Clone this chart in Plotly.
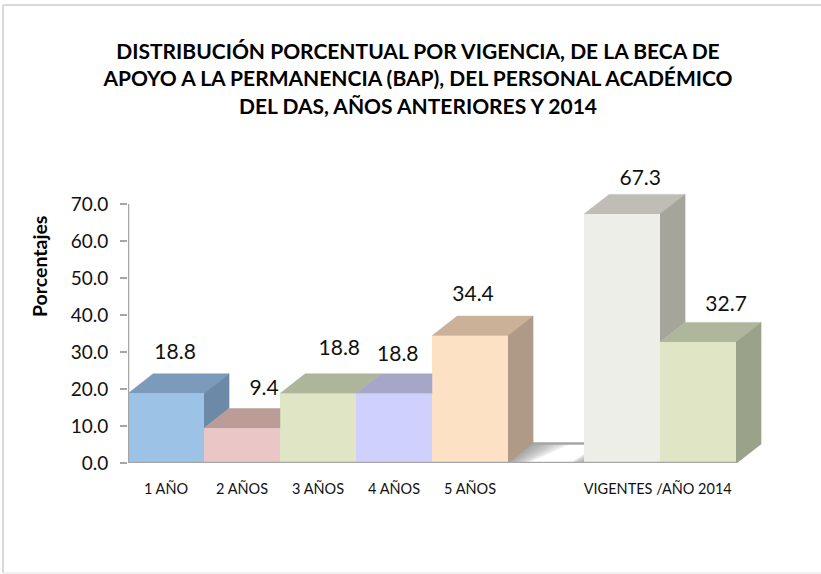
import plotly.graph_objects as go

title_lines = ["DISTRIBUCIÓN PORCENTUAL POR VIGENCIA, DE LA BECA DE",
               "APOYO A LA PERMANENCIA (BAP), DEL PERSONAL ACADÉMICO",
               "DEL DAS, AÑOS ANTERIORES Y 2014"]
y_title = "Porcentajes"
slots = [0, 1, 2, 3, 4, 6, 7]
values = [18.8, 9.4, 18.8, 18.8, 34.4, 67.3, 32.7]
tick_positions = [0.5, 1.5, 2.5, 3.5, 4.5, 6.97]
tick_labels = ["1 AÑO", "2 AÑOS", "3 AÑOS", "4 AÑOS", "5 AÑOS", "VIGENTES /AÑO 2014"]
y_ticks = [0, 10, 20, 30, 40, 50, 60, 70]

front_colors = ["#9CC2E6", "#EBC6C6", "#DFE5C5", "#D0D0FC", "#FDE1C4", "#EEEEE8", "#DFE5C5"]
top_colors = ["#7C9BBC", "#BC9C97", "#ADB59B", "#A6A6C8", "#CCB199", "#BFBDB6", "#AEB79B"]
side_colors = ["#6C89A8", "#A88F8B", "#9DA48B", "#9696B8", "#AF9A87", "#A5A59C", "#9AA289"]
label_dx = [0.12, 0.29, 0.28, 0.05, 0.04, 0.24, 0.37]
label_dy = [10.6, 10.3, 11.9, 10.3, 10.7, 9.2, 9.9]
DX, DY = 0.33, 5.3
AXIS = "#A6A6A6"
FONT = "Lato"
W, H = 821, 574
L, R, T, B = 128, 47, 167, 111
PW, PH = W - L - R, H - T - B

fig = go.Figure()


def poly(xs, ys, color):
    fig.add_trace(go.Scatter(x=xs, y=ys, mode="lines", fill="toself", fillcolor=color,
                             line=dict(color=color, width=0.5),
                             hoverinfo="skip", showlegend=False))


def seg(xs, ys, width):
    fig.add_trace(go.Scatter(x=xs, y=ys, mode="lines", line=dict(color=AXIS, width=width),
                             cliponaxis=False, hoverinfo="skip", showlegend=False))


# floor in the empty slot: back edge and soft shadows
for k in range(8):
    f = (8 - k) / 8
    poly([5, 5 + DX, 5 + DX + 0.5 * f, 5 + 0.25 * f], [0, DY, DY, 0], "rgba(120,120,120,0.10)")
    poly([6, 6 - 0.02 - 0.16 * f, 6], [0, 0, DY * 0.45 * f], "rgba(120,120,120,0.10)")
seg([5 + DX, 6], [DY, DY], 2.5)
seg([8, 8 + DX], [0, DY], 1.5)

# front faces
fig.add_trace(go.Bar(x=[s + 0.5 for s in slots], y=values, width=1,
                     marker=dict(color=front_colors, line=dict(width=0)), showlegend=False))

# top and side faces, hidden parts cut where the neighbour covers them
for i, (s, v) in enumerate(zip(slots, values)):
    adjacent = i + 1 < len(slots) and slots[i + 1] == s + 1
    nv = values[i + 1] if adjacent else 0
    x0, x1 = s, s + 1
    if nv > v:
        poly([x0, x0 + DX, x1, x1], [v, v + DY, v + DY, v], top_colors[i])
    else:
        poly([x0, x0 + DX, x1 + DX, x1], [v, v + DY, v + DY, v], top_colors[i])
    if nv < v:
        poly([x1, x1 + DX, x1 + DX, x1], [v, v + DY, nv + DY, nv], side_colors[i])

# axis lines stop at the last tick and at the last slot
seg([0, 0], [0, 70], 2.5)
seg([0, 8], [0, 0], 2.5)

# data labels
fig.add_trace(go.Scatter(
    x=[s + 0.5 + d for s, d in zip(slots, label_dx)],
    y=[v + d for v, d in zip(values, label_dy)],
    text=[f"{v:.1f}" for v in values], mode="text",
    textfont=dict(family=FONT, size=21, color="#111111"),
    cliponaxis=False, hoverinfo="skip", showlegend=False))

px = lambda p: (p - L) / PW
py = lambda p: (H - B - p) / PH
border = dict(xref="paper", yref="paper", layer="below")
fig.update_layout(
    width=W, height=H, paper_bgcolor="white", plot_bgcolor="white",
    margin=dict(l=L, r=R, t=T, b=B), autosize=False, showlegend=False,
    font=dict(family=FONT, color="#111111"),
    title=dict(text="<br>".join(title_lines), x=418 / W, xanchor="center", y=1 - 59 / H, yanchor="top",
               font=dict(family=FONT, size=21, color="#000000", weight="bold")),
    annotations=[dict(text=y_title, textangle=-90, xref="paper", yref="paper", x=px(39), y=py(267),
                      xanchor="center", yanchor="middle", showarrow=False,
                      font=dict(family=FONT, size=19.5, color="#000000", weight="bold"))],
    shapes=[dict(type="line", x0=px(3), x1=px(W), y0=py(5), y1=py(5), line=dict(color="#D9D9D9", width=2), **border),
            dict(type="line", x0=px(3), x1=px(3), y0=py(5), y1=py(573), line=dict(color="#D9D9D9", width=2), **border),
            dict(type="line", x0=px(3), x1=px(W), y0=py(573), y1=py(573), line=dict(color="#E4E4E4", width=1), **border)],
)
fig.update_xaxes(range=[0, PW / 76], tickvals=tick_positions, ticktext=tick_labels, ticks="", showgrid=False,
                 zeroline=False, showline=False, ticklabelstandoff=15,
                 tickfont=dict(family=FONT, size=14.5, color="#111111"))
fig.update_yaxes(range=[0, PH / 3.7], tickvals=y_ticks, tickformat=".1f", ticks="outside", ticklen=7, tickwidth=2,
                 tickcolor=AXIS, showgrid=False, zeroline=False, showline=False, ticklabelstandoff=8,
                 tickfont=dict(family=FONT, size=19, color="#111111"))
fig.write_html("out.html", config={"displayModeBar": False},
               post_script="document.body.style.margin='0';document.documentElement.style.overflow='hidden';")
